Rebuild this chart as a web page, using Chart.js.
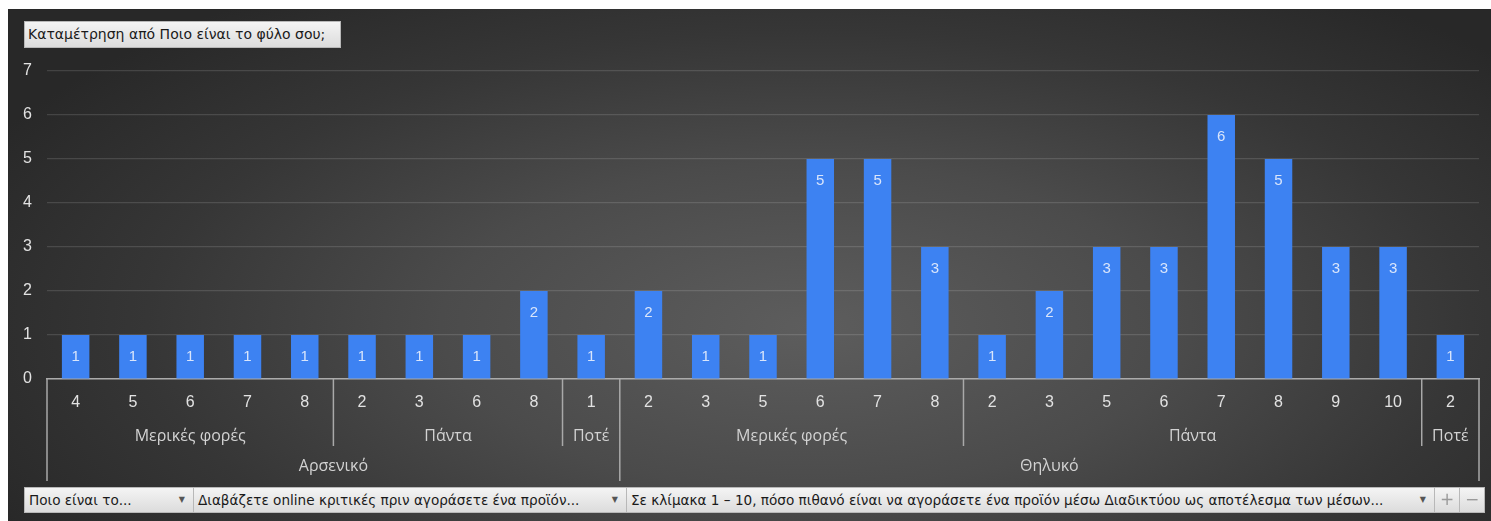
<!DOCTYPE html>
<html>
<head>
<meta charset="utf-8">
<script src="https://cdn.jsdelivr.net/npm/chart.js@4.4.1/dist/chart.umd.min.js"></script>
<style>
  html, body { margin: 0; padding: 0; background: #ffffff; width: 1491px; height: 521px; overflow: hidden; }
  #frame {
    position: absolute; left: 8px; top: 9px; width: 1483px; height: 512px;
    background: radial-gradient(ellipse 62% 80% at 54% 62%, #5d5d5d 0%, #4b4b4b 40%, #363636 72%, #282828 100%);
  }
  #chart { position: absolute; left: 0; top: 0; }
  .field {
    position: absolute; box-sizing: border-box;
    background: linear-gradient(#f4f4f4, #dcdcdc);
    border: 1px solid #b8b8b8;
    font-family: "DejaVu Sans", sans-serif; font-size: 13.6px; color: #1a1a1a;
    white-space: nowrap; overflow: hidden;
  }
  #title { left: 24px; top: 21px; width: 317px; height: 27px; line-height: 25px; padding-left: 3px; font-size: 14px; }
  .dd { top: 487px; height: 26px; line-height: 24px; padding-left: 4px; }
  .dd .arrow { position: absolute; right: 8px; top: 0; font-size: 8px; color: #555; }
  .btn { top: 487px; height: 26px; line-height: 23px; text-align: center; color: #9a9a9a; font-size: 17px; }
</style>
</head>
<body>
<div id="frame"></div>
<canvas id="chart" width="1491" height="521"></canvas>
<div id="title" class="field">Καταμέτρηση από Ποιο είναι το φύλο σου;</div>
<div class="field dd" style="left:24px;width:170px;">Ποιο είναι το...<span class="arrow">▼</span></div>
<div class="field dd" style="left:193px;width:434px;">Διαβάζετε online κριτικές πριν αγοράσετε ένα προϊόν...<span class="arrow">▼</span></div>
<div class="field dd" style="left:626px;width:809px;">Σε κλίμακα 1 – 10, πόσο πιθανό είναι να αγοράσετε ένα προϊόν μέσω Διαδικτύου ως αποτέλεσμα των μέσων...<span class="arrow">▼</span></div>
<div class="field btn" style="left:1434px;width:26px;">+</div>
<div class="field btn" style="left:1459px;width:26px;">−</div>
<script>
// Innermost level: rating on the 1–10 scale
const ratingLabels = ['4','5','6','7','8','2','3','6','8','1','2','3','5','6','7','8','2','3','5','6','7','8','9','10','2'];
// Count of respondents for each rating
const counts = [1,1,1,1,1, 1,1,1,2, 1, 2,1,1,5,5,3, 1,2,3,3,6,5,3,3, 1];
// Middle level: how often online reviews are read
const frequencyNames = ['Μερικές φορές','Πάντα','Ποτέ','Μερικές φορές','Πάντα','Ποτέ'];
const frequencySpans = [5,4,1,6,8,1];
// Outer level: gender
const genderNames = ['Αρσενικό','Θηλυκό'];
const genderSpans = [10,15];
// Value axis ticks
const yTicks = [0,1,2,3,4,5,6,7];

const numFont = '"Liberation Sans", Arial, sans-serif';
const greekFont = '"Open Sans", "Noto Sans", sans-serif';

const barGradient = (ctx) => {
  const el = ctx.element;
  const chart = ctx.chart;
  if (!el || !chart.chartArea || el.y === undefined || isNaN(el.y)) return '#3d82f2';
  const g = chart.ctx.createLinearGradient(0, el.y, 0, el.base);
  g.addColorStop(0, '#4d8ef8');
  g.addColorStop(0.45, '#4790fd');
  g.addColorStop(1, '#2f75ee');
  return g;
};

const valueLabels = {
  id: 'valueLabels',
  afterDatasetsDraw(chart) {
    const ctx = chart.ctx;
    const meta = chart.getDatasetMeta(0);
    ctx.save();
    ctx.font = '15px ' + numFont;
    ctx.fillStyle = '#d9e5fb';
    ctx.textAlign = 'center';
    ctx.textBaseline = 'middle';
    meta.data.forEach((bar, i) => {
      ctx.fillText(String(counts[i]), bar.x, bar.y + 22);
    });
    ctx.restore();
  }
};

const groupAxis = {
  id: 'groupAxis',
  afterDraw(chart) {
    const ctx = chart.ctx;
    const area = chart.chartArea;
    const xs = chart.scales.x;
    const n = ratingLabels.length;
    const step = (area.right - area.left) / n;
    const edge = (i) => i === n ? area.right : xs.getPixelForValue(i) - step / 2;
    const base = area.bottom;
    const midY = 436, outerY = 466, midEnd = 446, outerEnd = 481;

    ctx.save();
    ctx.strokeStyle = '#a9a9a9';
    ctx.lineWidth = 1.5;
    const vline = (x, y2) => { ctx.beginPath(); ctx.moveTo(x, base); ctx.lineTo(x, y2); ctx.stroke(); };

    // outer boundaries (gender)
    const outerEdges = [0];
    genderSpans.forEach(s => outerEdges.push(outerEdges[outerEdges.length - 1] + s));
    // middle boundaries (frequency)
    const midEdges = [0];
    frequencySpans.forEach(s => midEdges.push(midEdges[midEdges.length - 1] + s));

    midEdges.forEach(k => { if (!outerEdges.includes(k)) vline(edge(k), midEnd); });
    outerEdges.forEach(k => vline(edge(k), outerEnd));

    ctx.textAlign = 'center';
    ctx.textBaseline = 'middle';
    ctx.font = '16px ' + greekFont;
    ctx.fillStyle = '#d2d2d2';
    for (let j = 0; j < frequencyNames.length; j++) {
      ctx.fillText(frequencyNames[j], (edge(midEdges[j]) + edge(midEdges[j + 1])) / 2, midY);
    }
    for (let j = 0; j < genderNames.length; j++) {
      ctx.fillText(genderNames[j], (edge(outerEdges[j]) + edge(outerEdges[j + 1])) / 2, outerY);
    }
    ctx.restore();
  }
};

new Chart(document.getElementById('chart'), {
  type: 'bar',
  data: {
    labels: ratingLabels,
    datasets: [{
      data: counts,
      backgroundColor: barGradient,
      borderWidth: 0,
      barPercentage: 0.48,
      categoryPercentage: 1.0
    }]
  },
  options: {
    responsive: false,
    animation: false,
    events: [],
    layout: { padding: { top: 71, left: 0, right: 12, bottom: 0 } },
    plugins: { legend: { display: false }, tooltip: { enabled: false }, title: { display: false } },
    scales: {
      x: {
        grid: { display: false, drawTicks: false },
        border: { display: true, color: '#ababab', width: 1.5 },
        ticks: {
          color: '#e2e2e2', padding: 14, maxRotation: 0, autoSkip: false,
          font: { family: numFont, size: 16 }
        },
        afterFit: (s) => { s.height = 142; }
      },
      y: {
        min: yTicks[0], max: yTicks[yTicks.length - 1],
        afterBuildTicks: (s) => { s.ticks = yTicks.map(v => ({ value: v })); },
        grid: { color: 'rgba(255,255,255,0.13)', lineWidth: 1.2, drawTicks: false },
        border: { display: false },
        ticks: {
          color: '#e2e2e2', padding: 15,
          font: { family: numFont, size: 16 }
        },
        afterFit: (s) => { s.width = 47; }
      }
    }
  },
  plugins: [valueLabels, groupAxis]
});
</script>
</body>
</html>
